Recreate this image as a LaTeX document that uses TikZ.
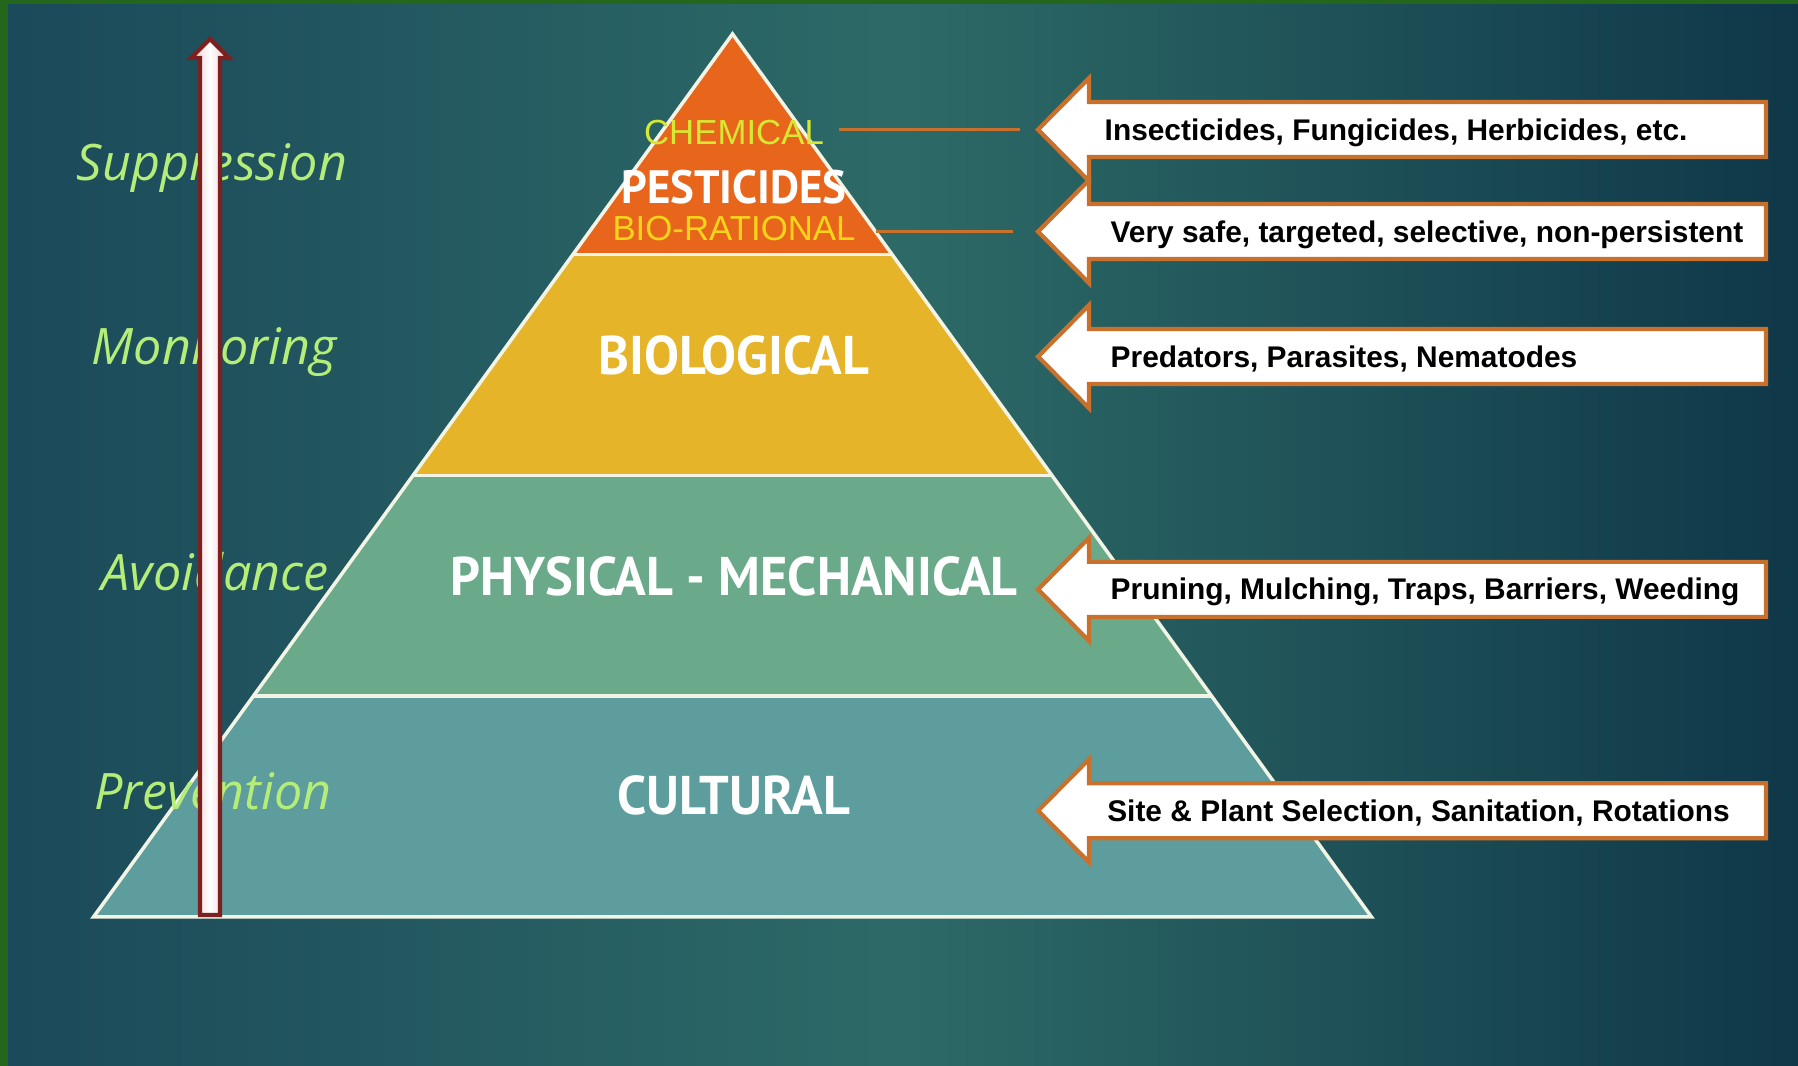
\documentclass[tikz,border=0pt]{standalone}
\usepackage{fontspec}
\usepackage{tikz}
\usetikzlibrary{calc}
\definecolor{framecol}{HTML}{25661D}
\definecolor{bgleft}{HTML}{1B4A5A}
\definecolor{bgmid}{HTML}{2D6A67}
\definecolor{bgright}{HTML}{0F3748}
\definecolor{pestcol}{HTML}{E8651C}
\definecolor{biocol}{HTML}{E6B428}
\definecolor{physcol}{HTML}{6AAA8A}
\definecolor{cultcol}{HTML}{5E9D9D}
\definecolor{edgecol}{HTML}{F2F4E6}
\definecolor{stagecol}{HTML}{B4EE78}
\definecolor{chemcol}{HTML}{D6E832}
\definecolor{ratcol}{HTML}{F6D41A}
\definecolor{callcol}{HTML}{C8702C}
\definecolor{shaftcol}{HTML}{EDC8C8}
\definecolor{rimcol}{HTML}{7E2020}
\newfontfamily\stagefont{Open Sans}
\newfontfamily\tierfont[FakeStretch=0.96]{PT Sans}
\newfontfamily\callfont{Liberation Sans}
% one left-pointing callout: name, centre height, text x, text
\newcommand{\callarrow}[4]{%
  \begin{scope}[yshift=#2cm]
    \filldraw[callout] (10.38,0) -- (10.89,0.515) -- (10.89,0.275) -- (17.66,0.275)
      -- (17.66,-0.275) -- (10.89,-0.275) -- (10.89,-0.515) -- cycle;
    \coordinate (#1tip) at (10.38,0);
    \node[calltext] (#1) at (#3,-0.105) {#4};
  \end{scope}}

\begin{document}
\begin{tikzpicture}[
  stage/.style={font=\stagefont\itshape\fontsize{14.3}{17}\selectfont, text=stagecol, anchor=base, inner sep=0pt},
  tier/.style={font=\tierfont\bfseries\fontsize{15.5}{18}\selectfont, text=white, anchor=base, inner sep=0pt},
  kind/.style={font=\callfont\fontsize{9.9}{12}\selectfont, anchor=base, inner sep=0pt},
  calltext/.style={font=\callfont\bfseries\fontsize{8.5}{10}\selectfont, anchor=base west, inner sep=0pt},
  callout/.style={draw=callcol, line width=1.2pt, fill=white, line join=miter},
  tierline/.style={draw=edgecol, line width=1pt},
  link/.style={draw=callcol, line width=0.8pt}
]
% frame and background
\fill[framecol] (0,0) rectangle (17.98,10.66);
\shade[left color=bgleft, right color=bgright, middle color=bgmid] (0.08,0) rectangle (17.98,10.61);
\useasboundingbox (0,0) rectangle (17.98,10.66);

% pyramid
\coordinate (apex) at (7.325,10.32);
\coordinate (bl) at (0.935,1.49);
\coordinate (br) at (13.715,1.49);
\coordinate (l1) at ($(apex)!0.25!(bl)$);
\coordinate (r1) at ($(apex)!0.25!(br)$);
\coordinate (l2) at ($(apex)!0.5!(bl)$);
\coordinate (r2) at ($(apex)!0.5!(br)$);
\coordinate (l3) at ($(apex)!0.75!(bl)$);
\coordinate (r3) at ($(apex)!0.75!(br)$);
\fill[pestcol] (apex) -- (r1) -- (l1) -- cycle;
\fill[biocol] (l1) -- (r1) -- (r2) -- (l2) -- cycle;
\fill[physcol] (l2) -- (r2) -- (r3) -- (l3) -- cycle;
\fill[cultcol] (l3) -- (r3) -- (br) -- (bl) -- cycle;
\draw[tierline] (bl) -- (apex) -- (br) -- cycle;
\draw[tierline] (l1) -- (r1) (l2) -- (r2) (l3) -- (r3);

\node[kind, text=chemcol] (chem) at (7.34,9.215) {CHEMICAL};
\node[tier, font=\tierfont\bfseries\fontsize{13.3}{16}\selectfont] (pest) at (7.34,8.62) {PESTICIDES};
\node[kind, text=ratcol] (biorat) at (7.34,8.25) {BIO-RATIONAL};
\node[tier] (bio) at (7.34,6.91) {BIOLOGICAL};
\node[tier] (phys) at (7.34,4.70) {PHYSICAL - MECHANICAL};
\node[tier] (cult) at (7.34,2.51) {CULTURAL};

% stages
\node[stage] (supp) at (2.12,8.85) {Suppression};
\node[stage] (moni) at (2.14,7.01) {Monitoring};
\node[stage] (avoid) at (2.15,4.755) {Avoidance};
\node[stage] (prev) at (2.13,2.56) {Prevention};
\shadedraw[left color=shaftcol, right color=shaftcol, middle color=white, draw=rimcol, line width=1.2pt]
  (2.00,1.51) -- (2.00,10.08) -- (1.91,10.08) -- (2.10,10.27) -- (2.29,10.08)
  -- (2.20,10.08) -- (2.20,1.51) -- cycle;

% callouts
\callarrow{ins}{9.364}{11.04}{Insecticides, Fungicides, Herbicides, etc.}
\callarrow{safe}{8.344}{11.10}{Very safe, targeted, selective, non-persistent}
\callarrow{pred}{7.094}{11.10}{Predators, Parasites, Nematodes}
\callarrow{prun}{4.766}{11.10}{Pruning, Mulching, Traps, Barriers, Weeding}
\callarrow{site}{2.553}{11.066}{Site \& Plant Selection, Sanitation, Rotations}
\draw[link] ([xshift=0.14cm]instip -| chem.east) -- ([xshift=-0.18cm]instip);
\draw[link] ([xshift=0.2cm]safetip -| biorat.east) -- ([xshift=-0.25cm]safetip);
\end{tikzpicture}
\end{document}
